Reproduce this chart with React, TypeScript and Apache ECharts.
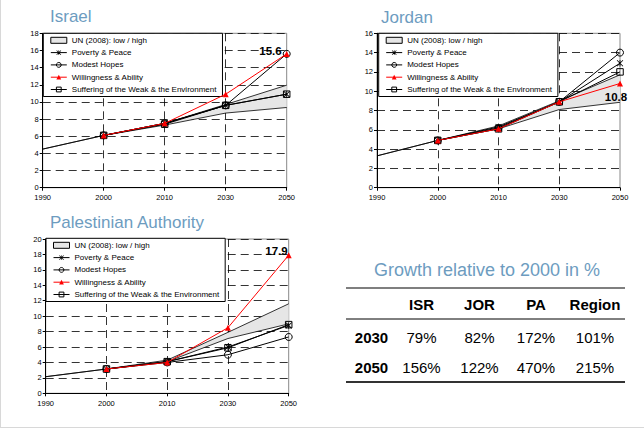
import React, { useEffect, useRef } from "react";
import * as echarts from "echarts";

const FONT = '"Liberation Sans", Arial, sans-serif';
const TITLE_COLOR = "#6d9cbf";

const years = ["1990", "2000", "2010", "2030", "2050"];

// Israel
const isrUnLow = [4.5, 6.1, 7.3, 8.7, 9.35];
const isrUnHigh = [4.5, 6.1, 7.5, 9.7, 11.95];
const isrPoverty = [null, 6.1, 7.5, 9.6, 10.9];
const isrModest = [null, 6.1, 7.5, 9.6, 15.6];
const isrWilling = [null, 6.1, 7.5, 10.9, 15.6];
const isrSuffering = [null, 6.1, 7.4, 9.6, 10.9];

// Jordan
const jorUnLow = [3.3, 4.9, 6.1, 8.1, 8.85];
const jorUnHigh = [3.3, 4.9, 6.4, 9.0, 11.7];
const jorPoverty = [null, 4.9, 6.3, 8.9, 12.9];
const jorModest = [null, 4.9, 6.2, 8.9, 14.0];
const jorWilling = [null, 4.9, 6.1, 8.9, 10.8];
const jorSuffering = [null, 4.9, 6.1, 8.9, 12.0];

// Palestinian Authority
const paUnLow = [2.15, 3.15, 4.1, 7.1, 9.0];
const paUnHigh = [2.15, 3.15, 4.3, 7.9, 11.6];
const paPoverty = [null, 3.15, 4.1, 6.0, 8.8];
const paModest = [null, 3.15, 4.0, 5.0, 7.3];
const paWilling = [null, 3.15, 4.0, 8.5, 17.9];
const paSuffering = [null, 3.15, 4.1, 5.9, 8.9];

// Table
const tableTitle = "Growth relative to 2000 in %";
const tableCols = ["ISR", "JOR", "PA", "Region"];
const tableRows = ["2030", "2050"];
const growth2030 = ["79%", "82%", "172%", "101%"];
const growth2050 = ["156%", "122%", "470%", "215%"];

const chartTitles = ["Israel", "Jordan", "Palestinian Authority"];

const N_UN = "UN (2008): low / high";
const N_POV = "Poverty & Peace";
const N_MOD = "Modest Hopes";
const N_WIL = "Willingness & Ability";
const N_SUF = "Suffering of the Weak & the Environment";

const STAR =
  "path://M4.4 0H5.6V10H4.4Z M0 0.9L0.9 0L10 9.1L9.1 10Z M9.1 0L10 0.9L0.9 10L0 9.1Z";

function App() {
  const ref = useRef<HTMLDivElement>(null);
  useEffect(() => {
    if (!ref.current) return;
    const chart = echarts.init(ref.current, null, { renderer: "svg" });

    const grids = [
      { left: 42.7, top: 33.3, width: 244, height: 154.4 },
      { left: 377, top: 33.3, width: 243, height: 154.4 },
      { left: 45.7, top: 239, width: 243, height: 154.3 },
    ];
    const yMaxes = [18, 16, 20];
    const legendPos = [
      { left: 43.3, top: 33.3 },
      { left: 378.7, top: 33.3 },
      { left: 46, top: 238.3 },
    ];
    const sets = [
      [isrUnLow, isrUnHigh, isrPoverty, isrModest, isrWilling, isrSuffering],
      [jorUnLow, jorUnHigh, jorPoverty, jorModest, jorWilling, jorSuffering],
      [paUnLow, paUnHigh, paPoverty, paModest, paWilling, paSuffering],
    ];
    const labelCfgs: any[] = [
      { position: "left", distance: 2, offset: [0, -3] },
      { position: "bottom", distance: 5, offset: [-4, 0] },
      { position: "left", distance: 0, offset: [2, -4] },
    ];

    const series: any[] = [];
    const xAxis: any[] = [];
    const yAxis: any[] = [];
    const legend: any[] = [];

    sets.forEach((s, i) => {
      const [low, high, pov, mod, wil, suf] = s as any[];
      xAxis.push({
        type: "category",
        gridIndex: i,
        data: years,
        boundaryGap: false,
        axisLine: { lineStyle: { color: "#000", width: 1 } },
        axisTick: { show: true, length: 3, lineStyle: { color: "#000" } },
        axisLabel: { fontSize: 7.5, color: "#000", fontFamily: FONT, margin: 6 },
        splitLine: {
          show: true,
          interval: (idx: number) => idx > 0 && idx < 4,
          lineStyle: { color: "#000", width: 0.8, type: [8, 5] },
        },
      });
      yAxis.push({
        type: "value",
        gridIndex: i,
        min: 0,
        max: yMaxes[i],
        interval: 2,
        axisLine: { show: true, lineStyle: { color: "#000", width: 1 } },
        axisTick: { show: true, length: 3, lineStyle: { color: "#000" } },
        axisLabel: { fontSize: 7.5, color: "#000", fontFamily: FONT, margin: 4 },
        splitLine: { show: true, lineStyle: { color: "#000", width: 0.8, type: [8, 5] } },
      });
      const stack = "un" + i;
      series.push({
        name: "UN low " + i,
        type: "line",
        xAxisIndex: i,
        yAxisIndex: i,
        stack,
        data: low,
        symbol: "none",
        lineStyle: { color: "#000", width: 0.8 },
        z: 2,
      });
      series.push({
        name: N_UN,
        type: "line",
        xAxisIndex: i,
        yAxisIndex: i,
        stack,
        data: high.map((h: number, k: number) => +(h - low[k]).toFixed(3)),
        symbol: "none",
        lineStyle: { color: "#000", width: 0.8 },
        itemStyle: { color: "#e6e6e6" },
        areaStyle: { color: "#e6e6e6", opacity: 1 },
        z: 2,
      });
      series.push({
        name: N_POV,
        type: "line",
        xAxisIndex: i,
        yAxisIndex: i,
        data: pov,
        symbol: STAR,
        symbolSize: 6.5,
        lineStyle: { color: "#000", width: 1 },
        itemStyle: { color: "#000" },
        z: 4,
      });
      series.push({
        name: N_MOD,
        type: "line",
        xAxisIndex: i,
        yAxisIndex: i,
        data: mod,
        symbol: "circle",
        symbolSize: 7,
        lineStyle: { color: "#000", width: 1 },
        itemStyle: { color: "rgba(255,255,255,0)", borderColor: "#000", borderWidth: 1 },
        z: 4,
      });
      series.push({
        name: N_SUF,
        type: "line",
        xAxisIndex: i,
        yAxisIndex: i,
        data: suf,
        symbol: "rect",
        symbolSize: 6.5,
        lineStyle: { color: "#000", width: 1 },
        itemStyle: { color: "rgba(255,255,255,0)", borderColor: "#000", borderWidth: 1 },
        z: 4,
      });
      series.push({
        name: N_WIL,
        type: "line",
        xAxisIndex: i,
        yAxisIndex: i,
        data: wil.map((v: number | null, k: number) =>
          k === wil.length - 1
            ? {
                value: v,
                label: {
                  show: true,
                  ...labelCfgs[i],
                  formatter: (p: any) => String(p.value),
                  fontSize: 11.5,
                  fontWeight: "bold",
                  color: "#000",
                  fontFamily: FONT,
                },
              }
            : v
        ),
        symbol: "triangle",
        symbolSize: 6,
        lineStyle: { color: "#ff0000", width: 1 },
        itemStyle: { color: "#ff0000" },
        z: 5,
      });
      legend.push({
        ...legendPos[i],
        orient: "vertical",
        backgroundColor: "#fff",
        borderColor: "#000",
        borderWidth: 1,
        borderRadius: 0,
        padding: [3, 6, 3, 7],
        itemGap: 4.3,
        itemWidth: 16,
        itemHeight: 6,
        selectedMode: false,
        lineStyle: { width: 1 },
        itemStyle: { borderWidth: 1 },
        textStyle: { fontSize: 8, color: "#000", fontFamily: FONT },
        data: [
          {
            name: N_UN,
            icon: "rect",
            itemStyle: { color: "#e6e6e6", borderColor: "#000", borderWidth: 1 },
          },
          { name: N_POV },
          { name: N_MOD },
          { name: N_WIL },
          { name: N_SUF },
        ],
      });
    });

    const graphic: any[] = [];
    // page border
    graphic.push({
      type: "line",
      shape: { x1: 0.5, y1: 0, x2: 0.5, y2: 428 },
      style: { stroke: "#d8d8d8", lineWidth: 1 },
    });
    graphic.push({
      type: "line",
      shape: { x1: 0, y1: 427.5, x2: 644, y2: 427.5 },
      style: { stroke: "#d8d8d8", lineWidth: 1 },
    });
    const titlePos = [
      { x: 50, y: 16 },
      { x: 381, y: 17 },
      { x: 50, y: 222 },
    ];
    chartTitles.forEach((t, i) => {
      graphic.push({
        type: "text",
        x: titlePos[i].x,
        y: titlePos[i].y,
        style: {
          text: t,
          fontSize: 17,
          fontFamily: FONT,
          fill: TITLE_COLOR,
          verticalAlign: "middle",
          align: "left",
        },
      });
    });

    // table
    graphic.push({
      type: "text",
      x: 487,
      y: 270,
      style: {
        text: tableTitle,
        fontSize: 18,
        fontFamily: FONT,
        fill: TITLE_COLOR,
        align: "center",
        verticalAlign: "middle",
      },
    });
    graphic.push({
      type: "line",
      shape: { x1: 346, y1: 288, x2: 625, y2: 288 },
      style: { stroke: "#000", lineWidth: 1.2 },
    });
    graphic.push({
      type: "line",
      shape: { x1: 346, y1: 319, x2: 625, y2: 319 },
      style: { stroke: "#000", lineWidth: 1 },
    });
    graphic.push({
      type: "line",
      shape: { x1: 346, y1: 382, x2: 625, y2: 382 },
      style: { stroke: "#333", lineWidth: 2.2 },
    });
    const colX = [421.5, 479.5, 536, 595];
    const rowY = [337, 367];
    tableCols.forEach((c, j) => {
      graphic.push({
        type: "text",
        x: colX[j],
        y: 304,
        style: {
          text: c,
          fontSize: 15,
          fontWeight: "bold",
          fontFamily: FONT,
          fill: "#000",
          align: "center",
          verticalAlign: "middle",
        },
      });
    });
    const rowVals = [growth2030, growth2050];
    tableRows.forEach((r, k) => {
      graphic.push({
        type: "text",
        x: 371.5,
        y: rowY[k],
        style: {
          text: r,
          fontSize: 15,
          fontWeight: "bold",
          fontFamily: FONT,
          fill: "#000",
          align: "center",
          verticalAlign: "middle",
        },
      });
      rowVals[k].forEach((v, j) => {
        graphic.push({
          type: "text",
          x: colX[j],
          y: rowY[k],
          style: {
            text: v,
            fontSize: 15,
            fontFamily: FONT,
            fill: "#000",
            align: "center",
            verticalAlign: "middle",
          },
        });
      });
    });

    chart.setOption({
      animation: false,
      backgroundColor: "#fff",
      textStyle: { fontFamily: FONT },
      grid: grids.map((g) => ({
        ...g,
        show: true,
        borderColor: "#888",
        borderWidth: 1,
        backgroundColor: "transparent",
      })),
      xAxis,
      yAxis,
      legend,
      series,
      graphic,
    });
    return () => chart.dispose();
  }, []);
  return (
    <div
      ref={ref}
      style={{ position: "fixed", left: 0, top: 0, width: 644, height: 430 }}
    />
  );
}

export default App;
